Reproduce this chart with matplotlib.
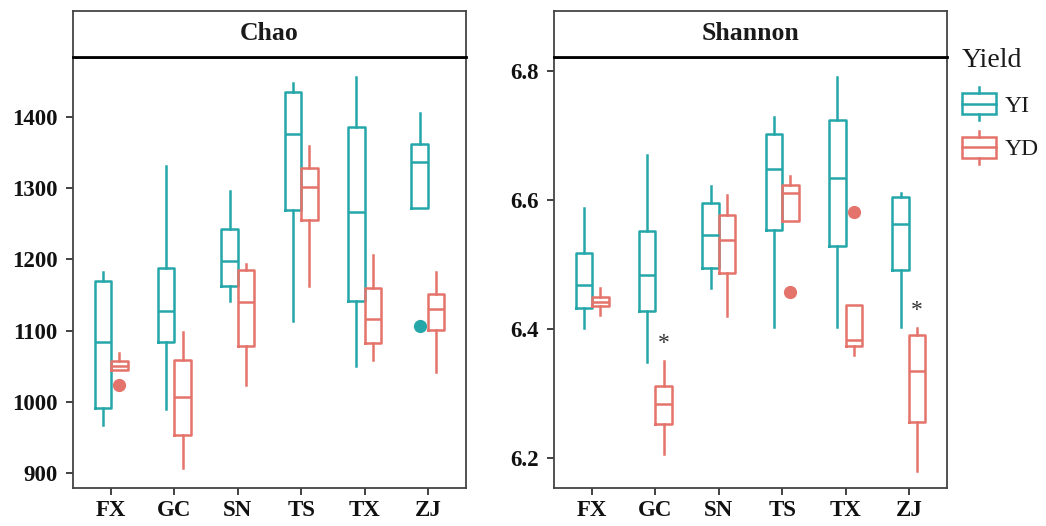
import matplotlib
matplotlib.use("Agg")
import numpy as np
import matplotlib.pyplot as plt
from matplotlib.legend_handler import HandlerBase
from matplotlib.patches import Rectangle
from matplotlib.lines import Line2D

plt.rcParams['font.family'] = ['Liberation Serif', 'DejaVu Serif']

sites = ["FX", "GC", "SN", "TS", "TX", "ZJ"]
groups = ["YI", "YD"]
COLOURS = {"YI": "#25A7AA", "YD": "#E4746B"}

# Chao (box stats)
chao_yi_whislo = [967, 990, 1141, 1114, 1051, 1273]
chao_yi_q1 = [992, 1084, 1163, 1270, 1141, 1273]
chao_yi_med = [1084, 1127, 1198, 1376, 1267, 1337]
chao_yi_q3 = [1170, 1188, 1243, 1435, 1386, 1362]
chao_yi_whishi = [1183, 1332, 1296, 1448, 1456, 1406]
chao_yi_fliers = [[], [], [], [], [], [1107]]

chao_yd_whislo = [1045, 907, 1023, 1163, 1059, 1042]
chao_yd_q1 = [1045, 953, 1079, 1256, 1082, 1101]
chao_yd_med = [1051, 1007, 1140, 1302, 1117, 1131]
chao_yd_q3 = [1058, 1059, 1185, 1328, 1160, 1151]
chao_yd_whishi = [1068, 1098, 1193, 1359, 1206, 1182]
chao_yd_fliers = [[1023], [], [], [], [], []]

# Shannon
shan_yi_whislo = [6.402, 6.349, 6.463, 6.403, 6.403, 6.403]
shan_yi_q1 = [6.433, 6.428, 6.495, 6.554, 6.528, 6.492]
shan_yi_med = [6.468, 6.484, 6.546, 6.648, 6.634, 6.563]
shan_yi_q3 = [6.518, 6.552, 6.595, 6.702, 6.724, 6.605]
shan_yi_whishi = [6.588, 6.670, 6.622, 6.729, 6.790, 6.611]
shan_yi_fliers = [[], [], [], [], [], []]

shan_yd_whislo = [6.422, 6.206, 6.420, 6.567, 6.360, 6.180]
shan_yd_q1 = [6.435, 6.253, 6.486, 6.567, 6.374, 6.256]
shan_yd_med = [6.442, 6.283, 6.538, 6.611, 6.383, 6.335]
shan_yd_q3 = [6.450, 6.311, 6.577, 6.623, 6.437, 6.390]
shan_yd_whishi = [6.463, 6.351, 6.607, 6.637, 6.437, 6.402]
shan_yd_fliers = [[], [], [], [6.458], [6.581], []]

# significance marks on the YD boxes
shan_yd_signif = ["", "*", "", "", "", "*"]


def make_stats(whislo, q1, med, q3, whishi, fliers):
    return [dict(whislo=a, q1=b, med=c, q3=d, whishi=e, fliers=f)
            for a, b, c, d, e, f in zip(whislo, q1, med, q3, whishi, fliers)]


chao = {
    "YI": make_stats(chao_yi_whislo, chao_yi_q1, chao_yi_med, chao_yi_q3, chao_yi_whishi, chao_yi_fliers),
    "YD": make_stats(chao_yd_whislo, chao_yd_q1, chao_yd_med, chao_yd_q3, chao_yd_whishi, chao_yd_fliers),
}
shannon = {
    "YI": make_stats(shan_yi_whislo, shan_yi_q1, shan_yi_med, shan_yi_q3, shan_yi_whishi, shan_yi_fliers),
    "YD": make_stats(shan_yd_whislo, shan_yd_q1, shan_yd_med, shan_yd_q3, shan_yd_whishi, shan_yd_fliers),
}

W, H = 1046, 526
fig = plt.figure(figsize=(W / 100, H / 100), dpi=100)


def px_axes(x0, y0, x1, y1):
    return fig.add_axes([x0 / W, 1 - y1 / H, (x1 - x0) / W, (y1 - y0) / H])


OFFSET = {"YI": -0.13, "YD": 0.13}
BOX_W = 0.26
LW = 1.8


def plot_panel(x0, x1, title, data, ylim, yticks, ytick_labels):
    ax = px_axes(x0, 58, x1, 488)
    pos = np.arange(1, len(sites) + 1)
    for g in groups:
        c = COLOURS[g]
        ax.bxp(data[g], positions=pos + OFFSET[g], widths=BOX_W, showcaps=False,
               manage_ticks=False,
               boxprops=dict(color=c, linewidth=LW),
               medianprops=dict(color=c, linewidth=LW),
               whiskerprops=dict(color=c, linewidth=LW),
               flierprops=dict(marker="o", markerfacecolor=c, markeredgecolor=c,
                               markersize=8.5))
    ax.set_xlim(0.4, len(sites) + 0.6)
    ax.set_ylim(*ylim)
    ax.set_xticks(pos)
    ax.set_xticklabels(sites)
    ax.set_yticks(yticks)
    ax.set_yticklabels(ytick_labels)
    ax.tick_params(length=5, width=1.3, color="#333333", labelsize=16.5, pad=4)
    ax.tick_params(axis="y", pad=6)
    for lab in ax.get_xticklabels() + ax.get_yticklabels():
        lab.set_fontweight("bold")
        lab.set_color("#111111")
    for s in ax.spines.values():
        s.set_color("#444444")
        s.set_linewidth(1.3)

    strip = px_axes(x0, 11, x1, 57)
    strip.set_xticks([])
    strip.set_yticks([])
    for s in strip.spines.values():
        s.set_color("#444444")
        s.set_linewidth(1.3)
    strip.spines["bottom"].set_color("black")
    strip.spines["bottom"].set_linewidth(2)
    strip.text(0.5, 0.5, title, ha="center", va="center", fontsize=18.5,
               fontweight="bold", color="#1a1a1a", transform=strip.transAxes)
    return ax


ax1 = plot_panel(73, 466, "Chao", chao, (879, 1483),
                 [900, 1000, 1100, 1200, 1300, 1400],
                 ["900", "1000", "1100", "1200", "1300", "1400"])
ax2 = plot_panel(554, 947, "Shannon", shannon, (6.1535, 6.820),
                 [6.2, 6.4, 6.6, 6.8], ["6.2", "6.4", "6.6", "6.8"])

for i, mark in enumerate(shan_yd_signif):
    if mark:
        ax2.text(i + 1 + OFFSET["YD"], shan_yd_whishi[i] + 0.010, mark,
                 ha="center", va="bottom", fontsize=17, color="#333333")


class BoxHandler(HandlerBase):
    def create_artists(self, legend, orig_handle, xdescent, ydescent,
                       width, height, fontsize, trans):
        c = orig_handle.get_color()
        x0, y0 = -xdescent, -ydescent
        box = Rectangle((x0, y0), width, height, fill=False, edgecolor=c,
                        linewidth=LW, transform=trans)
        med = Line2D([x0, x0 + width], [y0 + height / 2] * 2, color=c,
                     linewidth=LW, transform=trans)
        xm = x0 + width / 2
        top = Line2D([xm, xm], [y0 + height, y0 + height * 1.27], color=c,
                     linewidth=LW, transform=trans)
        bot = Line2D([xm, xm], [y0, y0 - height * 0.27], color=c,
                     linewidth=LW, transform=trans)
        return [box, med, top, bot]


handles = [Line2D([], [], color=COLOURS[g]) for g in groups]
leg = fig.legend(handles, groups, title="Yield", loc="upper left",
                 bbox_to_anchor=(962 / W, 1 - 48 / H), frameon=False,
                 handler_map={Line2D: BoxHandler()}, fontsize=17,
                 title_fontsize=20, handlelength=1.45, handleheight=1.0,
                 handletextpad=0.35, labelspacing=0.85, borderpad=0,
                 borderaxespad=0, alignment="left")
for t in leg.get_texts():
    t.set_color("#1a1a1a")
leg.get_title().set_color("#1a1a1a")

plt.savefig("out.png", dpi=100)
